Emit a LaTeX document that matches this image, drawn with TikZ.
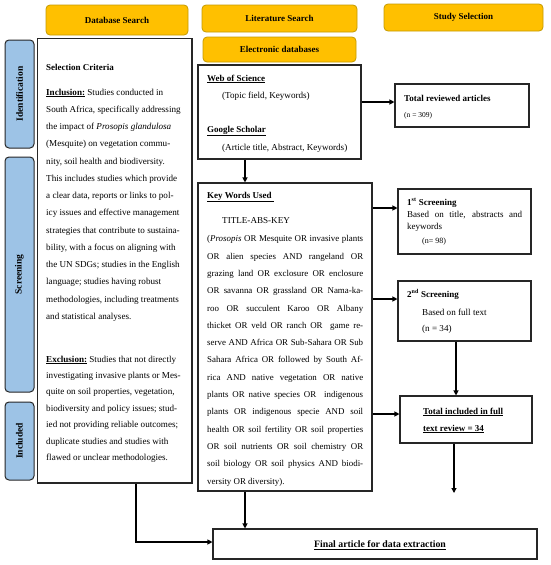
\documentclass[tikz,border=0pt]{standalone}
\usepackage{fontspec}
\setmainfont{Liberation Serif}
\usetikzlibrary{arrows.meta}
\definecolor{gold}{HTML}{FFC000}
\definecolor{goldline}{HTML}{C49A00}
\definecolor{sideblue}{HTML}{9DC3E6}
\newcommand\jl[2][156pt]{\makebox[#1][s]{#2}}
\begin{document}
\begin{tikzpicture}[x=1pt,y=-1pt,
  hdr/.style={draw=goldline, fill=gold, rounded corners=4pt, line width=0.8pt, font=\fontsize{9}{10}\selectfont\bfseries, inner sep=0},
  side/.style={draw=black!85, fill=sideblue, rounded corners=4pt, line width=1pt, font=\fontsize{9.5}{10}\selectfont\bfseries, inner sep=0, rotate=90},
  box/.style={draw=black!85, line width=1.1pt, inner sep=0, fill=white},
  txt/.style={inner sep=0, font=\fontsize{9.1}{17.25}\selectfont, align=left},
  bold/.style={font=\fontsize{9}{10}\selectfont\bfseries},
  arr/.style={line width=1.1pt, -{Triangle[length=5pt,width=5pt]}},
  ln/.style={line width=1.1pt}]
\useasboundingbox (0,0) rectangle (550,565);
\fill[white] (0,0) rectangle (550,565);
% headers
\node[hdr, minimum width=142pt, minimum height=30pt] (dbs) at (117,20) {Database Search};
\node[hdr, minimum width=155pt, minimum height=27pt] (lits) at (279.5,18.5) {Literature Search};
\node[hdr, minimum width=159pt, minimum height=27pt] (sts) at (463.5,17.5) {Study Selection};
\node[hdr, minimum width=153pt, minimum height=25pt] (eld) at (279.5,49.5) {Electronic databases};
% side labels
\node[side, minimum width=108pt, minimum height=29pt] (idl) at (19.5,94) {Identification};
\node[side, minimum width=235pt, minimum height=29pt] (scr) at (19.5,274.5) {Screening};
\node[side, minimum width=78pt, minimum height=29pt] (inc) at (19.5,441) {Included};
% boxes
\node[box, minimum width=154.5pt, minimum height=444.5pt] (sel) at (114.75,260.75) {};
\node[box, minimum width=163pt, minimum height=94pt] (wos) at (279.5,112) {};
\node[box, minimum width=174pt, minimum height=308pt] (kw) at (285,337) {};
\node[box, minimum width=324pt, minimum height=30pt] (fin) at (375,544) {};
\node[box, minimum width=134pt, minimum height=43pt] (tra) at (462,105.5) {};
\node[box, minimum width=133pt, minimum height=65pt] (s1) at (464.5,221.5) {};
\node[box, minimum width=133pt, minimum height=60pt] (s2) at (464.5,311) {};
\node[box, minimum width=132pt, minimum height=47pt] (tin) at (466,419.5) {};
% selection criteria text
\node[txt, anchor=west, bold] (selh) at (46,67) {Selection Criteria};
\node[txt, anchor=north west] (incl) at (46,88.5) {\textbf{\underline{Inclusion:}} Studies conducted in\\
South Africa, specifically addressing\\
the impact of \textit{Prosopis glandulosa}\\
(Mesquite) on vegetation commu-\\
nity, soil health and biodiversity.\\
This includes studies which provide\\
a clear data, reports or links to pol-\\
icy issues and effective management\\
strategies that contribute to sustaina-\\
bility, with a focus on aligning with\\
the UN SDGs; studies in the English\\
language; studies having robust\\
methodologies, including treatments\\
and statistical analyses.};
\node[txt, anchor=north west, font=\fontsize{9.1}{16.4}\selectfont] (excl) at (46,355.5) {\textbf{\underline{Exclusion:}} Studies that not directly\\
investigating invasive plants or Mes-\\
quite on soil properties, vegetation,\\
biodiversity and policy issues; stud-\\
ied not providing reliable outcomes;\\
duplicate studies and studies with\\
flawed or unclear methodologies.};
% web of science text
\node[txt, anchor=west, bold] (wost) at (207,79) {\underline{Web of Science}};
\node[txt, anchor=west] (wosk) at (222,96) {(Topic field, Keywords)};
\node[txt, anchor=west, bold] (gst) at (207,131) {\underline{Google Scholar}};
\node[txt, anchor=west] (gsk) at (222,148) {(Article title, Abstract, Keywords)};
% key words
\node[txt, anchor=west, bold] (kwt) at (207,197) {\underline{Key Words Used\ }};
\node[txt, anchor=west] (tak) at (222,221) {TITLE-ABS-KEY};
\node[txt, anchor=north west, font=\fontsize{8.9}{17.3}\selectfont] (kwl) at (207,235.5) {\jl{(\textit{Prosopis} OR Mesquite OR invasive plants}\\
\jl{OR alien species AND rangeland OR}\\
\jl{grazing land OR exclosure OR enclosure}\\
\jl{OR savanna OR grassland OR Nama-ka-}\\
\jl{roo OR succulent Karoo OR Albany}\\
\jl{thicket OR veld OR ranch OR\ \ game re-}\\
\jl{serve AND Africa OR Sub-Sahara OR Sub}\\
\jl{Sahara Africa OR followed by South Af-}\\
\jl{rica AND native vegetation OR native}\\
\jl{plants OR native species OR\ \ indigenous}\\
\jl{plants OR indigenous specie AND soil}\\
\jl{health OR soil fertility OR soil properties}\\
\jl{OR soil nutrients OR soil chemistry OR}\\
\jl{soil biology OR soil physics AND biodi-}\\
versity OR diversity).};
% right column texts
\node[txt, anchor=west, bold] (trat) at (404,98) {Total reviewed articles};
\node[txt, anchor=west, font=\fontsize{7.5}{9}\selectfont] (tran) at (404,116) {(n = 309)};
\node[txt, anchor=west, bold] (s1t) at (407,203) {1\textsuperscript{st} Screening};
\node[txt, anchor=north west, font=\fontsize{9}{12.3}\selectfont] (s1b) at (407,211) {\jl[115pt]{Based on title, abstracts and}\\keywords};
\node[txt, anchor=west, font=\fontsize{8}{9}\selectfont] (s1n) at (422,242) {(n= 98)};
\node[txt, anchor=west, bold] (s2t) at (407,294) {2\textsuperscript{nd} Screening};
\node[txt, anchor=west] (s2b) at (422,312) {Based on full text};
\node[txt, anchor=west] (s2n) at (422,329) {(n = 34)};
\node[txt, anchor=west, bold] (tin1) at (423,412) {\jl[100pt]{\underline{Total included in full}}};
\node[txt, anchor=west, bold] (tin2) at (423,429) {\underline{text review = 34}};
\node[txt, font=\fontsize{9.8}{11}\selectfont\bfseries] (fint) at (380,545) {\underline{Final article for data extraction}};
% connectors
\coordinate (ya) at (0,102);
\coordinate (y1) at (0,208);
\coordinate (y2) at (0,299);
\coordinate (y3) at (0,414);
\coordinate (xk) at (245,0);
\coordinate (xs) at (456,0);
\coordinate (xt) at (454,0);
\coordinate (tend) at (454,493);
\coordinate (xsel) at (136,0);
\coordinate (ybot) at (0,542);
\draw[arr] (wos.east |- ya) -- (tra.west |- ya);
\draw[arr] (wos.south -| xk) -- (kw.north -| xk);
\draw[arr] (kw.south -| xk) -- (fin.north -| xk);
\draw[arr] (kw.east |- y1) -- (s1.west |- y1);
\draw[arr] (kw.east |- y2) -- (s2.west |- y2);
\draw[arr] (kw.east |- y3) -- (tin.west |- y3);
\draw[arr] (s2.south -| xs) -- (tin.north -| xs);
\draw[arr] (tin.south -| xt) -- (tend);
\draw[arr] (sel.south -| xsel) |- (fin.west |- ybot);
\end{tikzpicture}
\end{document}
